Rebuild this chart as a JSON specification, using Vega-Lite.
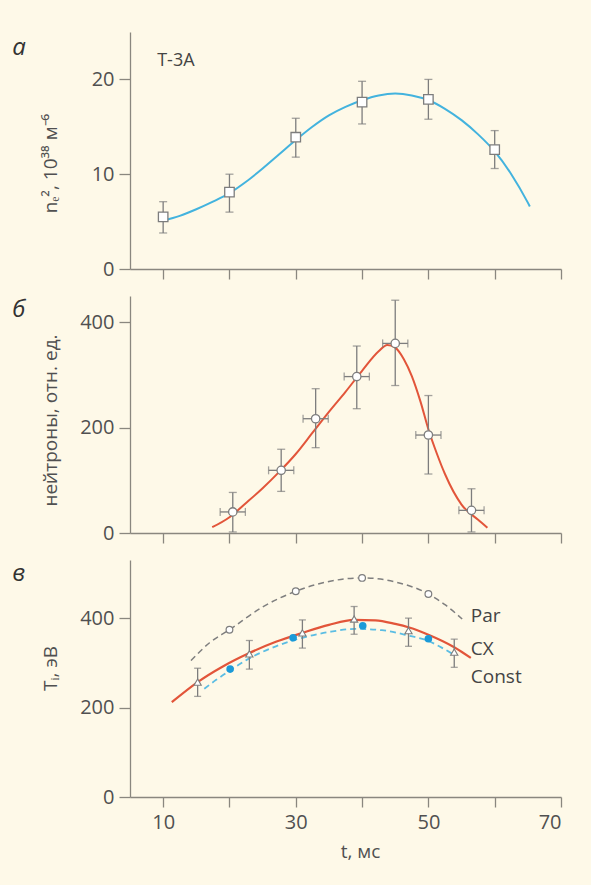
{
  "$schema": "https://vega.github.io/schema/vega-lite/v6.json",
  "background": "#fef9e8",
  "padding": {"left": 12, "top": 32, "right": 29, "bottom": 24},
  "spacing": 27,
  "bounds": "flush",
  "datasets": {
    "curveA": [
      {"t": 10, "v": 5.1}, {"t": 12.5, "v": 5.6}, {"t": 15, "v": 6.3}, {"t": 17.5, "v": 7.1},
      {"t": 20, "v": 8.0}, {"t": 22.5, "v": 9.2}, {"t": 25, "v": 10.6}, {"t": 27.5, "v": 12.1},
      {"t": 30, "v": 13.6}, {"t": 32.5, "v": 15.0}, {"t": 35, "v": 16.2}, {"t": 37.5, "v": 17.1},
      {"t": 40, "v": 17.8}, {"t": 42.5, "v": 18.3}, {"t": 45, "v": 18.5}, {"t": 47.5, "v": 18.3},
      {"t": 50, "v": 17.8}, {"t": 52.5, "v": 16.9}, {"t": 55, "v": 15.7}, {"t": 57.5, "v": 14.2},
      {"t": 60, "v": 12.4}, {"t": 62.5, "v": 10.0}, {"t": 65, "v": 7.0}, {"t": 65.3, "v": 6.6}
    ],
    "ptsA": [
      {"t": 10, "v": 5.5, "lo": 3.8, "hi": 7.1},
      {"t": 20, "v": 8.1, "lo": 6.0, "hi": 10.0},
      {"t": 30, "v": 13.9, "lo": 11.8, "hi": 15.9},
      {"t": 40, "v": 17.6, "lo": 15.3, "hi": 19.8},
      {"t": 50, "v": 17.9, "lo": 15.8, "hi": 20.0},
      {"t": 60, "v": 12.6, "lo": 10.6, "hi": 14.6}
    ],
    "curveB": [
      {"t": 17.4, "v": 11}, {"t": 20, "v": 30}, {"t": 22.5, "v": 57}, {"t": 25, "v": 85},
      {"t": 27.5, "v": 116}, {"t": 30, "v": 150}, {"t": 32.5, "v": 190}, {"t": 35, "v": 230},
      {"t": 37.5, "v": 268}, {"t": 40, "v": 308}, {"t": 42.5, "v": 345}, {"t": 43.8, "v": 357},
      {"t": 45, "v": 352}, {"t": 46.3, "v": 330}, {"t": 47.5, "v": 298}, {"t": 48.8, "v": 250},
      {"t": 50, "v": 197}, {"t": 51.3, "v": 150}, {"t": 52.5, "v": 112}, {"t": 55, "v": 54},
      {"t": 57.5, "v": 25}, {"t": 58.9, "v": 10}
    ],
    "ptsB": [
      {"t": 20.5, "v": 40, "lo": 2, "hi": 77, "tlo": 18.6, "thi": 22.4},
      {"t": 27.8, "v": 119, "lo": 79, "hi": 159, "tlo": 25.9, "thi": 29.7},
      {"t": 33.0, "v": 217, "lo": 162, "hi": 274, "tlo": 31.1, "thi": 34.9},
      {"t": 39.2, "v": 297, "lo": 236, "hi": 355, "tlo": 37.3, "thi": 41.1},
      {"t": 45.0, "v": 360, "lo": 280, "hi": 442, "tlo": 43.1, "thi": 46.9},
      {"t": 50.0, "v": 186, "lo": 112, "hi": 261, "tlo": 48.1, "thi": 51.9},
      {"t": 56.5, "v": 43, "lo": 2, "hi": 84, "tlo": 54.6, "thi": 58.4}
    ],
    "curvePar": [
      {"t": 14.2, "v": 305}, {"t": 17, "v": 345}, {"t": 20, "v": 374}, {"t": 25, "v": 425},
      {"t": 30, "v": 460}, {"t": 35, "v": 482}, {"t": 40, "v": 490}, {"t": 45, "v": 481},
      {"t": 50, "v": 454}, {"t": 52.5, "v": 430}, {"t": 55.1, "v": 398}
    ],
    "ptsPar": [
      {"t": 20, "v": 374}, {"t": 30, "v": 460}, {"t": 40, "v": 490}, {"t": 50, "v": 454}
    ],
    "curveCX": [
      {"t": 11.3, "v": 212}, {"t": 15.2, "v": 257}, {"t": 19, "v": 292}, {"t": 23, "v": 322},
      {"t": 27, "v": 347}, {"t": 31, "v": 367}, {"t": 35, "v": 385}, {"t": 38.8, "v": 396},
      {"t": 42, "v": 395}, {"t": 45, "v": 387}, {"t": 47.1, "v": 379}, {"t": 50, "v": 363},
      {"t": 53.9, "v": 335}, {"t": 56.4, "v": 311}
    ],
    "ptsCX": [
      {"t": 15.2, "v": 257, "lo": 225, "hi": 288},
      {"t": 23.0, "v": 320, "lo": 286, "hi": 350},
      {"t": 31.0, "v": 367, "lo": 333, "hi": 396},
      {"t": 38.8, "v": 398, "lo": 364, "hi": 426},
      {"t": 47.0, "v": 372, "lo": 337, "hi": 400},
      {"t": 53.9, "v": 324, "lo": 290, "hi": 353}
    ],
    "curveConst": [
      {"t": 16.2, "v": 242}, {"t": 18, "v": 262}, {"t": 20, "v": 282}, {"t": 23, "v": 310},
      {"t": 27, "v": 337}, {"t": 31, "v": 356}, {"t": 35, "v": 369}, {"t": 39, "v": 376},
      {"t": 43, "v": 373}, {"t": 47, "v": 361}, {"t": 50, "v": 349}, {"t": 52, "v": 334},
      {"t": 54, "v": 317}
    ],
    "ptsConst": [
      {"t": 20.1, "v": 286}, {"t": 29.6, "v": 356}, {"t": 40.1, "v": 383}, {"t": 50, "v": 354}
    ],
    "labelsC": [
      {"t": 56.4, "v": 404, "label": "Par"},
      {"t": 56.4, "v": 331, "label": "CX"},
      {"t": 56.4, "v": 269, "label": "Const"}
    ],
    "labelsA": [
      {"t": 9.1, "v": 21.9, "label": "T-3A"}
    ],
    "panelA": [{"t": -12.75, "v": 22.6, "label": "а"}],
    "panelB": [{"t": -12.75, "v": 411, "label": "б"}],
    "panelC": [{"t": -12.75, "v": 484, "label": "в"}]
  },
  "vconcat": [
    {
      "width": 431,
      "height": 237,
      "layer": [
        {
          "data": {"name": "curveA"},
          "mark": {"type": "line", "color": "#43b3de", "strokeWidth": 2, "interpolate": "monotone"},
          "encoding": {
            "x": {"field": "t", "type": "quantitative", "title": null, "scale": {"domain": [5, 70], "nice": false, "zero": false},
                  "axis": {"values": [10, 20, 30, 40, 50, 60, 70], "labels": false}},
            "y": {"field": "v", "type": "quantitative", "title": "nₑ², 10³⁸ м⁻⁶", "scale": {"domain": [0, 25], "nice": false},
                  "axis": {"values": [0, 10, 20], "titleX": -70, "titleY": 131}}
          }
        },
        {
          "data": {"name": "ptsA"},
          "mark": {"type": "errorbar", "ticks": true, "color": "#7d7d7d", "size": 8, "thickness": 1.3},
          "encoding": {
            "x": {"field": "t", "type": "quantitative", "title": null},
            "y": {"field": "lo", "type": "quantitative", "title": "nₑ², 10³⁸ м⁻⁶"},
            "y2": {"field": "hi"}
          }
        },
        {
          "data": {"name": "ptsA"},
          "mark": {"type": "point", "shape": "square", "filled": true, "fill": "#ffffff", "stroke": "#7d7d7d", "strokeWidth": 1.3, "size": 90, "opacity": 1},
          "encoding": {
            "x": {"field": "t", "type": "quantitative", "title": null},
            "y": {"field": "v", "type": "quantitative", "title": "nₑ², 10³⁸ м⁻⁶"}
          }
        },
        {
          "data": {"name": "labelsA"},
          "mark": {"type": "text", "align": "left", "baseline": "middle", "fontSize": 18, "font": "Open Sans", "color": "#444444"},
          "encoding": {
            "x": {"field": "t", "type": "quantitative", "title": null},
            "y": {"field": "v", "type": "quantitative", "title": "nₑ², 10³⁸ м⁻⁶"},
            "text": {"field": "label"}
          }
        },
        {
          "data": {"name": "panelA"},
          "mark": {"type": "text", "align": "left", "baseline": "alphabetic", "fontSize": 24, "fontStyle": "italic", "font": "Open Sans", "color": "#333333", "clip": false},
          "encoding": {
            "x": {"field": "t", "type": "quantitative", "title": null},
            "y": {"field": "v", "type": "quantitative", "title": "nₑ², 10³⁸ м⁻⁶"},
            "text": {"field": "label"}
          }
        }
      ]
    },
    {
      "width": 431,
      "height": 237,
      "layer": [
        {
          "data": {"name": "curveB"},
          "mark": {"type": "line", "color": "#e2553a", "strokeWidth": 2, "interpolate": "monotone"},
          "encoding": {
            "x": {"field": "t", "type": "quantitative", "title": null, "scale": {"domain": [5, 70], "nice": false, "zero": false},
                  "axis": {"values": [10, 20, 30, 40, 50, 60, 70], "labels": false}},
            "y": {"field": "v", "type": "quantitative", "title": "нейтроны, отн. ед.", "scale": {"domain": [0, 450], "nice": false},
                  "axis": {"values": [0, 200, 400], "titleX": -70, "titleY": 124}}
          }
        },
        {
          "data": {"name": "ptsB"},
          "mark": {"type": "errorbar", "ticks": true, "color": "#7d7d7d", "size": 8, "thickness": 1.3},
          "encoding": {
            "x": {"field": "t", "type": "quantitative", "title": null},
            "y": {"field": "lo", "type": "quantitative", "title": "нейтроны, отн. ед."},
            "y2": {"field": "hi"}
          }
        },
        {
          "data": {"name": "ptsB"},
          "mark": {"type": "errorbar", "ticks": true, "color": "#7d7d7d", "size": 8, "thickness": 1.3},
          "encoding": {
            "y": {"field": "v", "type": "quantitative", "title": "нейтроны, отн. ед."},
            "x": {"field": "tlo", "type": "quantitative", "title": null},
            "x2": {"field": "thi"}
          }
        },
        {
          "data": {"name": "ptsB"},
          "mark": {"type": "point", "shape": "circle", "filled": true, "fill": "#ffffff", "stroke": "#7d7d7d", "strokeWidth": 1.3, "size": 70, "opacity": 1},
          "encoding": {
            "x": {"field": "t", "type": "quantitative", "title": null},
            "y": {"field": "v", "type": "quantitative", "title": "нейтроны, отн. ед."}
          }
        },
        {
          "data": {"name": "panelB"},
          "mark": {"type": "text", "align": "left", "baseline": "alphabetic", "fontSize": 24, "fontStyle": "italic", "font": "Open Sans", "color": "#333333", "clip": false},
          "encoding": {
            "x": {"field": "t", "type": "quantitative", "title": null},
            "y": {"field": "v", "type": "quantitative", "title": "нейтроны, отн. ед."},
            "text": {"field": "label"}
          }
        }
      ]
    },
    {
      "width": 431,
      "height": 237,
      "layer": [
        {
          "data": {"name": "curvePar"},
          "mark": {"type": "line", "color": "#7f7f7f", "strokeWidth": 1.5, "strokeDash": [6, 4], "interpolate": "monotone"},
          "encoding": {
            "x": {"field": "t", "type": "quantitative", "title": "t, мс", "scale": {"domain": [5, 70], "nice": false, "zero": false},
                  "axis": {"values": [10, 20, 30, 40, 50, 60, 70], "labelExpr": "datum.value % 20 == 10 ? datum.label : ''", "titleX": 230, "titleY": 45, "titleBaseline": "top"}},
            "y": {"field": "v", "type": "quantitative", "title": "Tᵢ, эВ", "scale": {"domain": [0, 530], "nice": false},
                  "axis": {"values": [0, 200, 400], "titleX": -70, "titleY": 108}}
          }
        },
        {
          "data": {"name": "ptsPar"},
          "mark": {"type": "point", "shape": "circle", "filled": true, "fill": "#ffffff", "stroke": "#7d7d7d", "strokeWidth": 1.2, "size": 45, "opacity": 1},
          "encoding": {
            "x": {"field": "t", "type": "quantitative", "title": "t, мс"},
            "y": {"field": "v", "type": "quantitative", "title": "Tᵢ, эВ"}
          }
        },
        {
          "data": {"name": "curveConst"},
          "mark": {"type": "line", "color": "#5bbde3", "strokeWidth": 1.8, "strokeDash": [6, 4], "interpolate": "monotone"},
          "encoding": {
            "x": {"field": "t", "type": "quantitative", "title": "t, мс"},
            "y": {"field": "v", "type": "quantitative", "title": "Tᵢ, эВ"}
          }
        },
        {
          "data": {"name": "curveCX"},
          "mark": {"type": "line", "color": "#e2553a", "strokeWidth": 2.2, "interpolate": "monotone"},
          "encoding": {
            "x": {"field": "t", "type": "quantitative", "title": "t, мс"},
            "y": {"field": "v", "type": "quantitative", "title": "Tᵢ, эВ"}
          }
        },
        {
          "data": {"name": "ptsCX"},
          "mark": {"type": "errorbar", "ticks": true, "color": "#7d7d7d", "size": 7, "thickness": 1.3},
          "encoding": {
            "x": {"field": "t", "type": "quantitative", "title": "t, мс"},
            "y": {"field": "lo", "type": "quantitative", "title": "Tᵢ, эВ"},
            "y2": {"field": "hi"}
          }
        },
        {
          "data": {"name": "ptsCX"},
          "mark": {"type": "point", "shape": "triangle-up", "filled": true, "fill": "#ffffff", "stroke": "#7d7d7d", "strokeWidth": 1.1, "size": 52, "opacity": 1},
          "encoding": {
            "x": {"field": "t", "type": "quantitative", "title": "t, мс"},
            "y": {"field": "v", "type": "quantitative", "title": "Tᵢ, эВ"}
          }
        },
        {
          "data": {"name": "ptsConst"},
          "mark": {"type": "point", "shape": "circle", "filled": true, "fill": "#1b9ad8", "strokeWidth": 0, "size": 58, "opacity": 1},
          "encoding": {
            "x": {"field": "t", "type": "quantitative", "title": "t, мс"},
            "y": {"field": "v", "type": "quantitative", "title": "Tᵢ, эВ"}
          }
        },
        {
          "data": {"name": "labelsC"},
          "mark": {"type": "text", "align": "left", "baseline": "middle", "fontSize": 19, "font": "Open Sans", "color": "#444444"},
          "encoding": {
            "x": {"field": "t", "type": "quantitative", "title": "t, мс"},
            "y": {"field": "v", "type": "quantitative", "title": "Tᵢ, эВ"},
            "text": {"field": "label"}
          }
        },
        {
          "data": {"name": "panelC"},
          "mark": {"type": "text", "align": "left", "baseline": "alphabetic", "fontSize": 24, "fontStyle": "italic", "font": "Open Sans", "color": "#333333", "clip": false},
          "encoding": {
            "x": {"field": "t", "type": "quantitative", "title": "t, мс"},
            "y": {"field": "v", "type": "quantitative", "title": "Tᵢ, эВ"},
            "text": {"field": "label"}
          }
        }
      ]
    }
  ],
  "config": {
    "font": "Open Sans",
    "view": {"stroke": null},
    "axis": {
      "grid": false,
      "domainColor": "#8a877f",
      "domainWidth": 1.3,
      "tickColor": "#8a877f",
      "tickWidth": 1.3,
      "tickSize": 11,
      "labelFont": "Open Sans",
      "labelFontSize": 20,
      "labelColor": "#505050",
      "labelPadding": 5,
      "titleFont": "Open Sans",
      "titleFontSize": 19,
      "titleFontWeight": "normal",
      "titleColor": "#505050"
    },
    "axisX": {"tickSize": 10, "labelPadding": 5}
  }
}
